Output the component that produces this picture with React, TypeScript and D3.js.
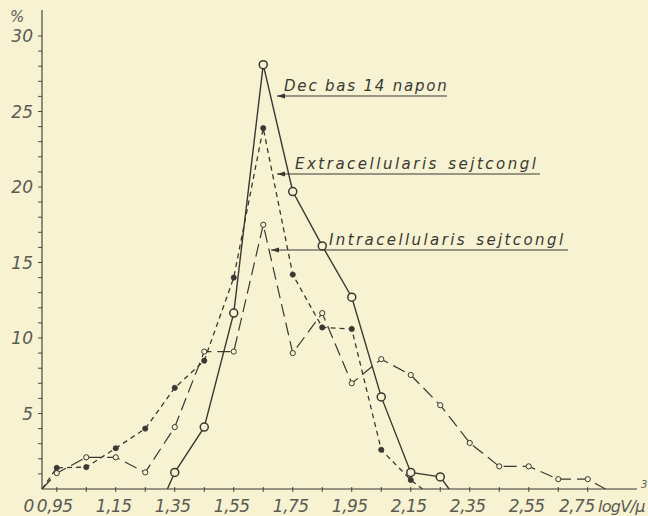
import React from "react";
import * as d3 from "d3";

// ---- data ----
const seriesX = [0.95, 1.05, 1.15, 1.25, 1.35, 1.45, 1.55, 1.65, 1.75, 1.85, 1.95, 2.05, 2.15, 2.25, 2.35, 2.45, 2.55, 2.65, 2.75];

const decBasX = [1.35, 1.45, 1.55, 1.65, 1.75, 1.85, 1.95, 2.05, 2.15, 2.25];
const decBasY = [1.1, 4.1, 11.65, 28.1, 19.7, 16.1, 12.7, 6.1, 1.1, 0.8];
const decBasStart: [number, number] = [1.325, 0];
const decBasEnd: [number, number] = [2.28, 0];

const extraX = seriesX.slice(0, 13);
const extraY = [1.4, 1.45, 2.7, 4.0, 6.7, 8.5, 14.0, 23.9, 14.2, 10.7, 10.6, 2.6, 0.6];
const extraStart: [number, number] = [0.9, 0];
const extraEnd: [number, number] = [2.19, 0];

const intraX = seriesX;
const intraY = [1.05, 2.1, 2.1, 1.1, 4.1, 9.1, 9.1, 17.5, 9.0, 11.65, 7.0, 8.6, 7.55, 5.55, 3.05, 1.5, 1.5, 0.65, 0.65];
const intraStart: [number, number] = [0.9, 0];
const intraEnd: [number, number] = [2.81, 0];

const xTickValues = [0.95, 1.05, 1.15, 1.25, 1.35, 1.45, 1.55, 1.65, 1.75, 1.85, 1.95, 2.05, 2.15, 2.25, 2.35, 2.45, 2.55, 2.65, 2.75];
const xLabelValues = [0.95, 1.15, 1.35, 1.55, 1.75, 1.95, 2.15, 2.35, 2.55, 2.75];
const xLabels = ["0,95", "1,15", "1,35", "1,55", "1,75", "1,95", "2,15", "2,35", "2,55", "2,75"];
const yMinorTicks = d3.range(1, 31);
const yLabelValues = [5, 10, 15, 20, 25, 30];
const yLabels = ["5", "10", "15", "20", "25", "30"];

const labelDec = "Dec bas 14 napon";
const labelExtra = "Extracellularis sejtcongl";
const labelIntra = "Intracellularis sejtcongl";

// ---- styling ----
const W = 648;
const H = 516;
const BG = "#f7f2d2";
const INK = "#3a3832";
const GRAY = "#5c5a52";
const FONT = "'DejaVu Sans', sans-serif";

export default function App() {
  const x = d3.scaleLinear().domain([0.9, 2.9]).range([42, 632]);
  const y = d3.scaleLinear().domain([0, 30]).range([489, 36]);
  const line = d3
    .line<[number, number]>()
    .x((d) => x(d[0]))
    .y((d) => y(d[1]));

  const zip = (xs: number[], ys: number[]) => xs.map((v, i) => [v, ys[i]] as [number, number]);
  const dec = zip(decBasX, decBasY);
  const extra = zip(extraX, extraY);
  const intra = zip(intraX, intraY);

  const arrow = (ax: number, ay: number, x2: number) => (
    <g>
      <line x1={ax} y1={ay} x2={x2} y2={ay} stroke={INK} strokeWidth={1} />
      <path d={`M${ax},${ay} l8,-2.5 l0,5 z`} fill={INK} />
    </g>
  );

  return (
    <svg
      width={W}
      height={H}
      style={{ position: "absolute", left: 0, top: 0, background: BG }}
    >
      <rect x={0} y={0} width={W} height={H} fill={BG} />
      {/* axes */}
      <line x1={x(0.9)} y1={y(0)} x2={637} y2={y(0)} stroke={INK} strokeWidth={1.1} />
      <line x1={x(0.9)} y1={y(0)} x2={x(0.9)} y2={10} stroke={INK} strokeWidth={1.1} />
      {yMinorTicks.map((t) => (
        <line key={t} x1={x(0.9) - 4} x2={x(0.9)} y1={y(t)} y2={y(t)} stroke={INK} strokeWidth={0.9} />
      ))}
      {xTickValues.map((t) => (
        <line key={t} x1={x(t)} x2={x(t)} y1={y(0) - 2} y2={y(0) + 3} stroke={INK} strokeWidth={0.9} />
      ))}
      {yLabelValues.map((v, i) => (
        <text key={v} x={33} y={y(v) + 6} textAnchor="end" fontFamily={FONT} fontStyle="italic" fontSize={17} fill={GRAY}>
          {yLabels[i]}
        </text>
      ))}
      <text x={29} y={512} textAnchor="middle" fontFamily={FONT} fontStyle="italic" fontSize={17} fill={GRAY}>0</text>
      {xLabelValues.map((v, i) => (
        <text
          key={v}
          x={i === xLabelValues.length - 1 ? x(v) + 7 : x(v) - 2}
          y={512}
          textAnchor={i === xLabelValues.length - 1 ? "end" : "middle"}
          fontFamily={FONT}
          fontStyle="italic"
          fontSize={17}
          fill={GRAY}
          letterSpacing={-0.5}
        >
          {xLabels[i]}
        </text>
      ))}
      <text x={598} y={512} fontFamily={FONT} fontStyle="italic" fontSize={16} fill={GRAY} letterSpacing={-0.7}>logV/μ</text>
      <text x={641} y={488} fontFamily={FONT} fontStyle="italic" fontSize={10} fill={GRAY}>3</text>
      <text x={10} y={22} fontFamily={FONT} fontStyle="italic" fontSize={15} fill={GRAY}>%</text>

      {/* series: intracellularis (long dash, small open circles) */}
      <path
        d={line([intraStart, ...intra, intraEnd]) || ""}
        fill="none"
        stroke={INK}
        strokeWidth={1.2}
        strokeDasharray="13,6"
      />
      {/* extracellularis (short dash, filled dots) */}
      <path
        d={line([extraStart, ...extra, extraEnd]) || ""}
        fill="none"
        stroke={INK}
        strokeWidth={1.3}
        strokeDasharray="5,4"
      />
      {/* dec bas (solid, large open circles) */}
      <path d={line([decBasStart, ...dec, decBasEnd]) || ""} fill="none" stroke={INK} strokeWidth={1.4} />

      {intra.map((d, i) => (
        <circle key={"i" + i} cx={x(d[0])} cy={y(d[1])} r={2.6} fill={BG} stroke={INK} strokeWidth={1} />
      ))}
      {extra.map((d, i) => (
        <circle key={"e" + i} cx={x(d[0])} cy={y(d[1])} r={2.6} fill={INK} stroke={INK} strokeWidth={0.8} />
      ))}
      {dec.map((d, i) => (
        <circle key={"d" + i} cx={x(d[0])} cy={y(d[1])} r={4} fill={BG} stroke={INK} strokeWidth={1.5} />
      ))}

      {/* annotations */}
      {arrow(277, 96, 447)}
      <text x={284} y={91} fontFamily={FONT} fontStyle="italic" fontSize={15} fill={INK} letterSpacing={1.8}>{labelDec}</text>
      {arrow(277, 174, 540)}
      <text x={295} y={169} fontFamily={FONT} fontStyle="italic" fontSize={15} fill={INK} letterSpacing={2.5} wordSpacing={2}>{labelExtra}</text>
      {arrow(271, 250, 568)}
      <text x={329} y={245} fontFamily={FONT} fontStyle="italic" fontSize={15} fill={INK} letterSpacing={2.4} wordSpacing={2}>{labelIntra}</text>
    </svg>
  );
}
